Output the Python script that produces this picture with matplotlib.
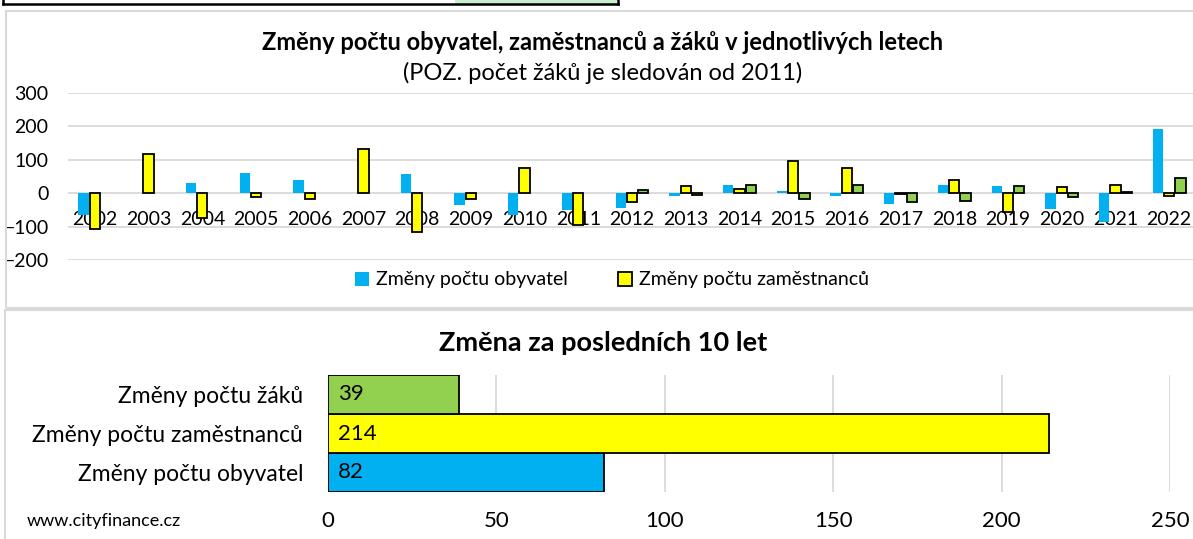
import matplotlib
matplotlib.use("Agg")
import matplotlib.pyplot as plt
from matplotlib.patches import Rectangle
from matplotlib.lines import Line2D
import numpy as np

plt.rcParams['font.family'] = ['Lato', 'DejaVu Sans']

# yearly changes
years = [str(y) for y in range(2002, 2023)]
obyvatel = [-65, 0, 32, 59, 40, 0, 56, -34, -66, -50, -45, -7, 24, 8, -7, -31, 24, 21, -48, -85, 192]
zamestnanci = [-108, 116, -75, -10, -18, 133, -115, -18, 76, -95, -27, 22, 14, 95, 76, -3, 39, -55, 20, 24, -8]
zaci = [np.nan] * 10 + [9, -5, 25, -16, 25, -25, -22, 22, -10, 5, 47]

# change over last 10 years
cat_10 = ['Změny počtu obyvatel', 'Změny počtu zaměstnanců', 'Změny počtu žáků']
val_10 = [82, 214, 39]

blue = '#00B0F0'
yellow = '#FFFF00'
green = '#92D050'
grid_c = '#D9D9D9'

W, H = 1193, 539
fig = plt.figure(figsize=(W / 100, H / 100), dpi=100)


def fx(px):
    return px / W


def fy(py):
    return 1 - py / H


# panel frames (Excel chart objects) and the cut-off table on top
fig.add_artist(Rectangle((fx(6), fy(308)), fx(1300), fy(11) - fy(308), transform=fig.transFigure,
                         fill=False, edgecolor=grid_c, linewidth=1.5))
fig.add_artist(Rectangle((fx(5), fy(600)), fx(1300), fy(310) - fy(600), transform=fig.transFigure,
                         fill=False, edgecolor=grid_c, linewidth=1.5))
fig.add_artist(Rectangle((fx(455), fy(4)), fx(617) - fx(455), fy(-5) - fy(4), transform=fig.transFigure,
                         facecolor='#C6EFCE', edgecolor='none'))
fig.add_artist(Line2D([fx(3), fx(618)], [fy(4), fy(4)], transform=fig.transFigure, color='black', lw=1.8))
fig.add_artist(Line2D([fx(3), fx(3)], [fy(4), 1], transform=fig.transFigure, color='black', lw=1.8))
fig.add_artist(Line2D([fx(618), fx(618)], [fy(4), 1], transform=fig.transFigure, color='black', lw=1.8))

# ---- top chart ----
ax = fig.add_axes([fx(68), fy(260), fx(1128), fy(93) - fy(260)])
x = np.arange(len(years))
w = 0.19
b1 = ax.bar(x - 0.21, obyvatel, w, color=blue, edgecolor='none', label='Změny počtu obyvatel')
b2 = ax.bar(x, zamestnanci, w, color=yellow, edgecolor='black', linewidth=1.3, label='Změny počtu zaměstnanců')
b3 = ax.bar(x + 0.21, zaci, w, color=green, edgecolor='black', linewidth=1.3)
ax.set_xlim(-0.5, len(years) - 0.5)
ax.set_ylim(-200, 300)
ax.set_yticks([-200, -100, 0, 100, 200, 300])
ax.yaxis.grid(True, color=grid_c, linewidth=1.3)
ax.set_axisbelow(True)
for s in ax.spines.values():
    s.set_visible(False)
ax.spines['bottom'].set_position(('data', 0))
ax.set_xticks(x)
ax.set_xticklabels(years)
ax.tick_params(axis='x', length=0, pad=12.5, labelsize=14)
ax.tick_params(axis='y', length=0, pad=14, labelsize=14)

fig.text(fx(603), fy(42), 'Změny počtu obyvatel, zaměstnanců a žáků v jednotlivých letech',
         ha='center', va='center', fontsize=17, fontweight='bold')
fig.text(fx(603), fy(73), '(POZ. počet žáků je sledován od 2011)',
         ha='center', va='center', fontsize=17)
fig.legend(handles=[b1, b2], loc='center', bbox_to_anchor=(fx(612), fy(280)), ncol=2,
           frameon=False, fontsize=14, handlelength=0.7, handleheight=0.7,
           handletextpad=0.35, columnspacing=2.6)

# ---- bottom chart ----
ax2 = fig.add_axes([fx(328), fy(492), fx(842), fy(375) - fy(492)])
y = np.arange(len(cat_10))
bars = ax2.barh(y, val_10, 1.0, color=[blue, yellow, green], edgecolor='black', linewidth=1.3)
for i, v in enumerate(val_10):
    ax2.annotate(str(v), xy=(0, i), xytext=(10, 0), textcoords='offset pixels',
                 ha='left', va='center', fontsize=16)
ax2.set_xlim(0, 250)
ax2.set_ylim(-0.5, 2.5)
ax2.set_xticks([0, 50, 100, 150, 200, 250])
ax2.set_yticks(y)
ax2.set_yticklabels(cat_10)
ax2.xaxis.grid(True, color=grid_c, linewidth=1.3)
ax2.set_axisbelow(True)
for s in ax2.spines.values():
    s.set_visible(False)
ax2.tick_params(axis='x', length=0, pad=14, labelsize=16)
ax2.tick_params(axis='y', length=0, pad=18, labelsize=16.5)

fig.text(fx(603), fy(343), 'Změna za posledních 10 let', ha='center', va='center',
         fontsize=19.5, fontweight='bold')
fig.text(fx(27), fy(521), 'www.cityfinance.cz', ha='left', va='center', fontsize=13)

fig.savefig('out.png', dpi=100, facecolor='white')
